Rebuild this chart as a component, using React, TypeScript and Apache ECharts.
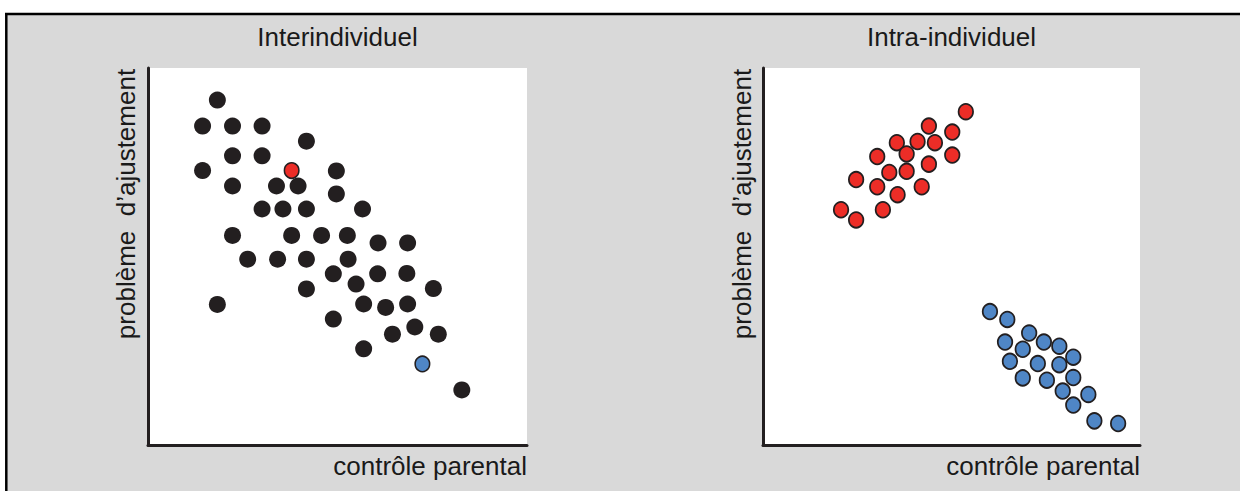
import React, { useEffect, useRef } from 'react';
import * as echarts from 'echarts';

// ---- Data (axis units 0..100) ----
const interBlackX = [18.3, 14.4, 22.3, 30.1, 41.8, 22.3, 30.1, 14.4, 49.7, 22.3, 33.9, 39.6, 49.7, 30.1, 35.6, 41.8, 56.6, 22.3, 37.9, 45.8, 52.6, 60.7, 68.5, 26.3, 34.2, 41.8, 52.8, 48.9, 60.6, 68.3, 54.9, 41.8, 75.3, 18.3, 56.9, 62.7, 68.5, 48.9, 70.4, 64.5, 76.6, 56.9, 82.8];
const interBlackY = [91.5, 84.6, 84.6, 84.6, 80.6, 76.7, 76.7, 72.8, 72.7, 68.7, 68.7, 68.7, 66.6, 62.6, 62.6, 62.6, 62.6, 55.6, 55.6, 55.6, 55.6, 53.6, 53.6, 49.3, 49.3, 49.3, 49.3, 45.4, 45.4, 45.5, 42.7, 41.4, 41.5, 37.3, 37.4, 36.5, 37.4, 33.4, 31.3, 29.4, 29.4, 25.5, 14.6];
const interRedX = [37.9];
const interRedY = [72.8];
const interBlueX = [72.4];
const interBlueY = [21.5];

const intraRedX = [53.8, 44.0, 50.2, 35.5, 41.0, 45.6, 38.1, 50.2, 30.3, 44.0, 33.5, 38.1, 24.7, 30.3, 42.1, 35.7, 20.7, 31.8, 24.7];
const intraRedY = [88.4, 84.6, 83.0, 80.2, 80.5, 80.2, 77.2, 76.9, 76.5, 74.5, 72.3, 72.6, 70.4, 68.5, 68.5, 66.4, 62.4, 62.4, 59.7];
const intraBlueX = [60.2, 64.8, 70.6, 64.2, 74.5, 78.6, 68.9, 82.3, 65.5, 72.9, 78.6, 68.9, 75.3, 82.3, 79.5, 86.3, 82.3, 87.9, 94.2];
const intraBlueY = [35.4, 33.3, 29.7, 27.3, 27.3, 26.2, 25.4, 23.3, 22.2, 21.6, 21.3, 17.8, 17.2, 17.9, 14.3, 13.4, 10.6, 6.4, 5.7];

const panelTitles = ['Interindividuel', 'Intra-individuel'];
const xAxisTitle = 'contrôle parental';
const yAxisTitle = 'problème  d’ajustement';

const zip = (xs: number[], ys: number[]) => xs.map((x, i) => [x, ys[i]]);

const FONT_FAMILY = '"Liberation Sans", Arial, Helvetica, sans-serif';
const INK = '#231f20';
const RED = '#ec2d27';
const BLUE = '#4f86c6';
const BG = '#d9d9d9';

function textEl(text: string, x: number, y: number, align: string, rotation = 0) {
  return {
    type: 'text',
    x,
    y,
    rotation,
    silent: true,
    style: {
      text,
      fill: '#1a1a1a',
      font: `26px ${FONT_FAMILY}`,
      fontSize: 26,
      fontFamily: FONT_FAMILY,
      textAlign: align,
      align,
      textVerticalAlign: 'middle',
      verticalAlign: 'middle',
    },
  };
}

export default function App() {
  const ref = useRef<HTMLDivElement>(null);

  useEffect(() => {
    if (!ref.current) return;
    const chart = echarts.init(ref.current, undefined, { renderer: 'svg' });

    const grids = [
      { left: 148, top: 68, width: 379, height: 377 },
      { left: 763, top: 68, width: 377, height: 377 },
    ].map((g) => ({ ...g, show: true, backgroundColor: '#ffffff', borderWidth: 0, containLabel: false }));

    const axisCommon = {
      type: 'value',
      min: 0,
      max: 100,
      axisTick: { show: false },
      axisLabel: { show: false },
      splitLine: { show: false },
      axisLine: { show: true, onZero: false, lineStyle: { color: INK, width: 3 } },
    };

    const option: any = {
      animation: false,
      backgroundColor: BG,
      grid: grids,
      xAxis: [
        { ...axisCommon, gridIndex: 0 },
        { ...axisCommon, gridIndex: 1 },
      ],
      yAxis: [
        { ...axisCommon, gridIndex: 0 },
        { ...axisCommon, gridIndex: 1 },
      ],
      graphic: [
        { type: 'rect', silent: true, shape: { x: 0, y: 0, width: 1240, height: 13 }, style: { fill: '#ffffff' } },
        { type: 'rect', silent: true, shape: { x: 0, y: 0, width: 5, height: 491 }, style: { fill: '#ffffff' } },
        { type: 'line', silent: true, shape: { x1: 5, y1: 14, x2: 1240, y2: 14 }, style: { stroke: '#000000', lineWidth: 2.5 } },
        { type: 'line', silent: true, shape: { x1: 6.3, y1: 13, x2: 6.3, y2: 491 }, style: { stroke: '#000000', lineWidth: 2.5 } },
        textEl(panelTitles[0], 337.5, 37, 'center'),
        textEl(panelTitles[1], 951.5, 37, 'center'),
        textEl(xAxisTitle, 527, 465.5, 'right'),
        textEl(xAxisTitle, 1140, 465.5, 'right'),
        textEl(yAxisTitle, 126, 204, 'center', Math.PI / 2),
        textEl(yAxisTitle, 742, 204, 'center', Math.PI / 2),
      ],
      series: [
        {
          type: 'scatter', xAxisIndex: 0, yAxisIndex: 0, silent: true,
          data: zip(interBlackX, interBlackY), symbolSize: 17,
          itemStyle: { color: INK, opacity: 1 },
        },
        {
          type: 'scatter', xAxisIndex: 0, yAxisIndex: 0, silent: true, z: 3,
          data: zip(interRedX, interRedY), symbolSize: [14.5, 15.5],
          itemStyle: { color: RED, borderColor: INK, borderWidth: 1.6, opacity: 1 },
        },
        {
          type: 'scatter', xAxisIndex: 0, yAxisIndex: 0, silent: true, z: 3,
          data: zip(interBlueX, interBlueY), symbolSize: [14.5, 15.5],
          itemStyle: { color: BLUE, borderColor: INK, borderWidth: 1.6, opacity: 1 },
        },
        {
          type: 'scatter', xAxisIndex: 1, yAxisIndex: 1, silent: true,
          data: zip(intraRedX, intraRedY), symbolSize: [14.5, 15.5],
          itemStyle: { color: RED, borderColor: INK, borderWidth: 1.8, opacity: 1 },
        },
        {
          type: 'scatter', xAxisIndex: 1, yAxisIndex: 1, silent: true,
          data: zip(intraBlueX, intraBlueY), symbolSize: [14.5, 15.5],
          itemStyle: { color: BLUE, borderColor: INK, borderWidth: 1.8, opacity: 1 },
        },
      ],
    };

    chart.setOption(option);
    return () => {
      chart.dispose();
    };
  }, []);

  return (
    <div
      ref={ref}
      style={{ position: 'absolute', left: 0, top: 0, width: 1240, height: 491 }}
    />
  );
}
